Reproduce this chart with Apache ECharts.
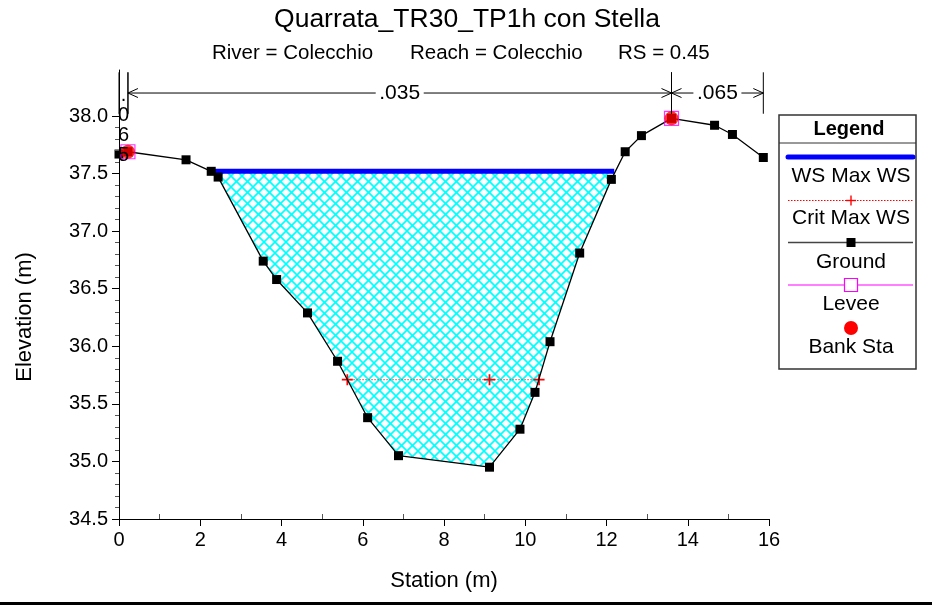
<!DOCTYPE html>
<html>
<head>
<meta charset="utf-8">
<script src="https://cdn.jsdelivr.net/npm/echarts@6/dist/echarts.min.js"></script>
<style>
html,body{margin:0;padding:0;background:#fff;}
#chart{width:932px;height:612px;}
</style>
</head>
<body>
<div id="chart"></div>
<script>
// ---------- data ----------
const groundSta  = [0, 0.22, 1.65, 2.27, 2.44, 3.55, 3.88, 4.64, 5.38, 6.12, 6.88, 9.12, 9.87, 10.24, 10.61, 11.34, 12.12, 12.46, 12.86, 13.6, 14.66, 15.1, 15.86];
const groundElev = [37.67, 37.69, 37.62, 37.52, 37.47, 36.74, 36.58, 36.29, 35.87, 35.38, 35.05, 34.95, 35.28, 35.60, 36.04, 36.81, 37.45, 37.69, 37.83, 37.98, 37.92, 37.84, 37.64];
const wsSta   = [2.27, 12.19];
const wsElev  = [37.52, 37.52];
const critSta  = [5.62, 9.12, 10.34];
const critElev = [35.71, 35.71, 35.71];
const leveeSta  = [0.22, 13.6];
const leveeElev = [37.69, 37.98];
const bankSta  = [0.22, 13.6];
const bankElev = [37.69, 37.98];
const nStations = [0, 0.22, 13.6, 15.86];
const nValues   = ['.065', '.035', '.065'];
const xTickLabels = ['0', '2', '4', '6', '8', '10', '12', '14', '16'];
const yTickLabels = ['34.5', '35.0', '35.5', '36.0', '36.5', '37.0', '37.5', '38.0'];
const legendNames = ['WS Max WS', 'Crit Max WS', 'Ground', 'Levee', 'Bank Sta'];
const titleText = 'Quarrata_TR30_TP1h con Stella';
const subTexts = ['River = Colecchio', 'Reach = Colecchio', 'RS = 0.45'];
const xName = 'Station (m)';
const yName = 'Elevation (m)';

// ---------- helpers ----------
const FONT = '"Liberation Sans", Arial, Helvetica, sans-serif';
const zip = (a, b) => a.map((v, i) => [v, b[i]]);
const xMajor = xTickLabels.map(Number);
const yMajor = yTickLabels.map(Number);
const xMinor = [];
for (let i = 0; i < xMajor.length - 1; i++) xMinor.push((xMajor[i] + xMajor[i + 1]) / 2);
const yMinor = [];
for (let i = 0; i < yMajor.length - 1; i++) {
  for (let k = 1; k < 5; k++) yMinor.push(+(yMajor[i] + k * 0.1).toFixed(2));
}
const annotTop = 38.38, annotBottom = 38.02, annotArrow = 38.2;

// cross-hatch pattern
const P = 11;
const pat = document.createElement('canvas');
pat.width = P; pat.height = P;
const pc = pat.getContext('2d');
pc.fillStyle = '#fff'; pc.fillRect(0, 0, P, P);
pc.strokeStyle = '#00FFFF'; pc.lineWidth = 1.7;
for (let k = -1; k <= 1; k++) {
  pc.beginPath(); pc.moveTo(k * P - 1, -1); pc.lineTo(k * P + P + 1, P + 1); pc.stroke();
  pc.beginPath(); pc.moveTo(k * P + P + 1, -1); pc.lineTo(k * P - 1, P + 1); pc.stroke();
}

const plusPath = 'path://M4.2,0H5.8V4.2H10V5.8H5.8V10H4.2V5.8H0V4.2H4.2Z';

const chart = echarts.init(document.getElementById('chart'), null, {renderer: 'canvas'});

// legend graphics
const LX0 = 779, LX1 = 916, LCX = 851;
const LFS = 21;
const legendG = [
  {type: 'rect', shape: {x: LX0, y: 115, width: LX1 - LX0, height: 254}, style: {fill: '#fff', stroke: '#333', lineWidth: 1.5}, z: 50},
  {type: 'line', shape: {x1: LX0, y1: 143, x2: LX1, y2: 143}, style: {stroke: '#333', lineWidth: 1}, z: 51},
  {type: 'text', x: LCX - 2, y: 129, style: {text: 'Legend', fontFamily: FONT, fontSize: 20, fontWeight: 'bold', fill: '#000', align: 'center', verticalAlign: 'middle'}, z: 51},
  // WS
  {type: 'line', shape: {x1: 788, y1: 157, x2: 913, y2: 157}, style: {stroke: '#0000FF', lineWidth: 5, lineCap: 'round'}, z: 51},
  // Crit
  {type: 'line', shape: {x1: 788, y1: 200.5, x2: 913, y2: 200.5}, style: {stroke: '#FF0000', lineWidth: 1, lineDash: [1.5, 1.5]}, z: 51},
  {type: 'line', shape: {x1: LCX - 5, y1: 200.5, x2: LCX + 5, y2: 200.5}, style: {stroke: '#FF0000', lineWidth: 1.4}, z: 52},
  {type: 'line', shape: {x1: LCX, y1: 195.5, x2: LCX, y2: 205.5}, style: {stroke: '#FF0000', lineWidth: 1.4}, z: 52},
  // Ground
  {type: 'line', shape: {x1: 788, y1: 242.5, x2: 913, y2: 242.5}, style: {stroke: '#444', lineWidth: 1.5}, z: 51},
  {type: 'rect', shape: {x: LCX - 4.5, y: 238, width: 9, height: 9}, style: {fill: '#000'}, z: 52},
  // Levee
  {type: 'line', shape: {x1: 788, y1: 285, x2: 913, y2: 285}, style: {stroke: '#FF00FF', lineWidth: 1}, z: 51},
  {type: 'rect', shape: {x: LCX - 6.5, y: 278.5, width: 13, height: 13}, style: {fill: '#fff', stroke: '#FF00FF', lineWidth: 1.2}, z: 52},
  // Bank
  {type: 'circle', shape: {cx: LCX, cy: 328, r: 7}, style: {fill: '#FF0000'}, z: 52}
];
const legendTextY = [176, 218, 262, 304, 347];
legendNames.forEach((n, i) => legendG.push({type: 'text', x: LCX, y: legendTextY[i], style: {text: n, fontFamily: FONT, fontSize: LFS, fill: '#000', align: 'center', verticalAlign: 'middle'}, z: 52}));

const subX = [212, 410, 618];
const headerG = [
  {type: 'text', x: 467, y: 20, style: {text: titleText, fontFamily: FONT, fontSize: 26.5, fill: '#000', align: 'center', verticalAlign: 'middle'}},
  {type: 'text', x: 25, y: 317, rotation: Math.PI / 2, style: {text: yName, fontFamily: FONT, fontSize: 22, fill: '#000', align: 'center', verticalAlign: 'middle'}},
  {type: 'rect', shape: {x: 0, y: 602, width: 932, height: 3}, style: {fill: '#000'}}
];
subTexts.forEach((t, i) => headerG.push({type: 'text', x: subX[i], y: 53, style: {text: t, fontFamily: FONT, fontSize: 20.5, fill: '#000', align: 'left', verticalAlign: 'middle'}}));

const segData = [];
for (let i = 0; i < nValues.length; i++) segData.push([nStations[i], nStations[i + 1], i]);

const option = {
  animation: false,
  backgroundColor: '#fff',
  textStyle: {fontFamily: FONT},
  grid: {left: 119, right: 163, top: 70, bottom: 93, containLabel: false},
  xAxis: [
    {
      type: 'value', min: 0, max: 16, z: 10,
      name: xName, nameLocation: 'middle', nameGap: 51,
      nameTextStyle: {fontFamily: FONT, fontSize: 22, color: '#000'},
      axisLine: {show: true, onZero: false, lineStyle: {color: '#000', width: 1}},
      axisTick: {show: true, length: 7, customValues: xMajor, lineStyle: {color: '#000'}},
      axisLabel: {show: true, customValues: xMajor, margin: 11, fontFamily: FONT, fontSize: 20, color: '#000',
        formatter: v => xTickLabels[xMajor.indexOf(v)] ?? ''},
      splitLine: {show: false}
    },
    {
      type: 'value', min: 0, max: 16, z: 10, position: 'bottom',
      axisLine: {show: false, onZero: false},
      axisTick: {show: true, inside: true, length: 5, customValues: xMinor, lineStyle: {color: '#555'}},
      axisLabel: {show: false},
      splitLine: {show: false}
    }
  ],
  yAxis: [
    {
      type: 'value', min: 34.5, max: 38.4, z: 10,
      axisLine: {show: true, onZero: false, lineStyle: {color: '#000', width: 1}},
      axisTick: {show: true, length: 7, customValues: yMajor, lineStyle: {color: '#000'}},
      axisLabel: {show: true, customValues: yMajor, margin: 11, fontFamily: FONT, fontSize: 20, color: '#000',
        formatter: v => yTickLabels[yMajor.indexOf(v)] ?? v.toFixed(1)},
      splitLine: {show: false}
    },
    {
      type: 'value', min: 34.5, max: 38.4, z: 10, position: 'left',
      axisLine: {show: false, onZero: false},
      axisTick: {show: true, length: 4, customValues: yMinor, lineStyle: {color: '#555'}},
      axisLabel: {show: false},
      splitLine: {show: false}
    }
  ],
  graphic: headerG.concat(legendG),
  series: [
    { // water area (pattern) down to axis start
      type: 'line', z: 1, silent: true, symbol: 'none',
      data: zip(wsSta, wsElev),
      lineStyle: {width: 0, opacity: 0},
      areaStyle: {color: {image: pat, repeat: 'repeat'}, opacity: 1, origin: 'start'}
    },
    { // mask below ground
      type: 'line', z: 2, silent: true, symbol: 'none',
      data: zip(groundSta, groundElev),
      lineStyle: {width: 0, opacity: 0},
      areaStyle: {color: '#fff', opacity: 1, origin: 'start'}
    },
    { // WS Max WS line
      type: 'line', z: 3, silent: true, symbol: 'none',
      data: zip(wsSta, wsElev),
      lineStyle: {color: '#0000FF', width: 5, cap: 'butt'}
    },
    { // Crit Max WS
      type: 'line', z: 4, silent: true,
      data: zip(critSta, critElev),
      symbol: plusPath, symbolSize: 11,
      itemStyle: {color: '#FF0000', opacity: 1},
      lineStyle: {color: '#FF3333', width: 1, type: [1.5, 1.5]}
    },
    { // Ground
      type: 'line', z: 5, silent: true,
      data: zip(groundSta, groundElev),
      symbol: 'rect', symbolSize: 9,
      itemStyle: {color: '#000'},
      lineStyle: {color: '#000', width: 1.3}
    },
    { // Levee
      type: 'scatter', z: 6, silent: true,
      data: zip(leveeSta, leveeElev),
      symbol: 'rect', symbolSize: 14,
      itemStyle: {color: 'rgba(0,0,0,0)', borderColor: '#FF00FF', borderWidth: 1.2}
    },
    { // Bank Sta
      type: 'scatter', z: 7, silent: true,
      data: zip(bankSta, bankElev),
      symbol: 'circle', symbolSize: 14,
      itemStyle: {color: '#FF0000'}
    },
    { // Manning n annotations
      type: 'custom', z: 8, silent: true, clip: false,
      data: segData,
      dimensions: ['s1', 's2', 'idx'],
      encode: {x: [0, 1], y: 2},
      renderItem: function (params, api) {
        const x1 = api.value(0), x2 = api.value(1), idx = api.value(2);
        const a = api.coord([x1, annotArrow]);
        const b = api.coord([x2, annotArrow]);
        const top = api.coord([x1, annotTop])[1];
        const bot = api.coord([x1, annotBottom])[1];
        const y = a[1];
        const st = {stroke: '#000', lineWidth: 1, fill: null};
        const ch = [
          {type: 'line', shape: {x1: a[0], y1: top, x2: a[0], y2: bot}, style: st},
          {type: 'line', shape: {x1: b[0], y1: top, x2: b[0], y2: bot}, style: st}
        ];
        const label = nValues[idx];
        const mid = (a[0] + b[0]) / 2;
        if (b[0] - a[0] > 60) {
          const half = 24;
          ch.push({type: 'line', shape: {x1: a[0], y1: y, x2: mid - half, y2: y}, style: st});
          ch.push({type: 'line', shape: {x1: mid + half, y1: y, x2: b[0], y2: y}, style: st});
          ch.push({type: 'polyline', shape: {points: [[a[0] + 10, y - 4.5], [a[0], y], [a[0] + 10, y + 4.5]]}, style: st});
          ch.push({type: 'polyline', shape: {points: [[b[0] - 10, y - 4.5], [b[0], y], [b[0] - 10, y + 4.5]]}, style: st});
          ch.push({type: 'text', x: mid, y: y, style: {text: label, fontFamily: FONT, fontSize: 21, fill: '#000', align: 'center', verticalAlign: 'middle'}});
        } else {
          ch.push({type: 'text', x: mid, y: y - 8, style: {text: label.split('').join('\n'), fontFamily: FONT, fontSize: 20, lineHeight: 20, fill: '#000', align: 'center', verticalAlign: 'top'}});
        }
        return {type: 'group', children: ch};
      }
    }
  ]
};
chart.setOption(option);
</script>
</body>
</html>
